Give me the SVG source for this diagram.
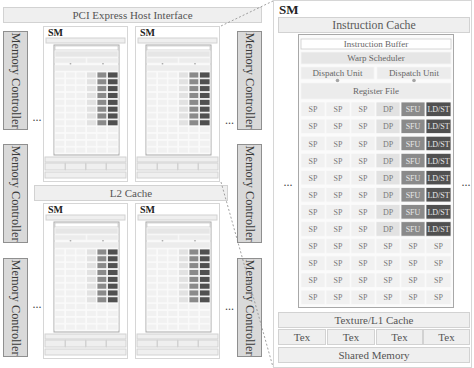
<svg xmlns="http://www.w3.org/2000/svg" xmlns:xlink="http://www.w3.org/1999/xlink" width="474" height="368" viewBox="0 0 474 368">
<style>
text{font-family:"Liberation Serif","Times New Roman",serif;text-anchor:middle;fill:#5a5a5a}
.mc rect{fill:#d9d9d9;stroke:#8f8f8f;stroke-width:1}
.mc text{font-size:12.3px;fill:#3a3a3a}
.bar{fill:#efefef;stroke:#d2d2d2;stroke-width:1}
.frame{fill:#ffffff;stroke:#d6d6d6;stroke-width:1}
.inner{fill:#fbfbfb;stroke:#a8a8a8;stroke-width:1}
.sp{fill:#f1f1f1;stroke:#fafafa;stroke-width:0.8}
.dp{fill:#e2e2e2;stroke:#fafafa;stroke-width:0.8}
.sfu{fill:#8a8a8a;stroke:#fafafa;stroke-width:0.8}
.ld{fill:#505050;stroke:#fafafa;stroke-width:0.8}
.wh{fill:#ffffff;stroke:#cccccc;stroke-width:0.8}
.g1{fill:#e6e6e6;stroke:#f4f4f4;stroke-width:0.8}
.g2{fill:#ececec;stroke:#f4f4f4;stroke-width:0.8}
.cell text{font-size:8px;fill:#7a7a7a}
.cell text.w{fill:#e8e8e8}
.lbl9{font-size:9px;fill:#666}
.lbl11{font-size:11px;fill:#555}
.smlbl{font-family:"Liberation Serif",serif;font-weight:bold;text-anchor:start;fill:#222}
.dots{font-size:12px;fill:#444}
.conn{stroke:#8a8a8a;stroke-width:0.8;stroke-dasharray:2 2;fill:none}
.dot{fill:#a5a5a5}
</style>
<defs>
<g id="smsmall">
<rect class="frame" x="0.5" y="0.5" width="84" height="155"/>
<rect class="bar" x="3" y="12" width="79" height="5"/>
<rect class="inner" x="11" y="19" width="65" height="110"/>
<rect class="wh" x="12" y="20" width="63" height="4"/>
<rect class="g1" x="12" y="25" width="63" height="6"/>
<rect class="g2" x="12" y="32" width="31" height="5"/>
<rect class="g2" x="44" y="32" width="31" height="5"/>
<circle class="dot" cx="27.5" cy="37.8" r="0.9"/>
<circle class="dot" cx="60" cy="37.8" r="0.9"/>
<rect class="g2" x="12" y="39" width="63" height="6"/>
<g id="srowA">
<rect class="sp" x="12" y="46" width="9.8" height="6"/>
<rect class="sp" x="22.5" y="46" width="9.8" height="6"/>
<rect class="sp" x="33" y="46" width="9.8" height="6"/>
<rect class="dp" x="43.5" y="46" width="9.8" height="6"/>
<rect class="sfu" x="54" y="46" width="9.8" height="6"/>
<rect class="ld" x="64.5" y="46" width="10.5" height="6"/>
</g>
<use xlink:href="#srowA" y="6.83"/>
<use xlink:href="#srowA" y="13.66"/>
<use xlink:href="#srowA" y="20.49"/>
<use xlink:href="#srowA" y="27.32"/>
<use xlink:href="#srowA" y="34.15"/>
<use xlink:href="#srowA" y="40.98"/>
<use xlink:href="#srowA" y="47.81"/>
<g id="srowB">
<rect class="sp" x="12" y="100.64" width="9.8" height="6"/>
<rect class="sp" x="22.5" y="100.64" width="9.8" height="6"/>
<rect class="sp" x="33" y="100.64" width="9.8" height="6"/>
<rect class="sp" x="43.5" y="100.64" width="9.8" height="6"/>
<rect class="sp" x="54" y="100.64" width="9.8" height="6"/>
<rect class="sp" x="64.5" y="100.64" width="10.5" height="6"/>
</g>
<use xlink:href="#srowB" y="6.83"/>
<use xlink:href="#srowB" y="13.66"/>
<use xlink:href="#srowB" y="20.49"/>
<rect class="bar" x="2" y="131" width="81" height="5"/>
<rect class="bar" x="2" y="137" width="20" height="7"/>
<rect class="bar" x="22.5" y="137" width="20" height="7"/>
<rect class="bar" x="43" y="137" width="20" height="7"/>
<rect class="bar" x="63.5" y="137" width="19.5" height="7"/>
<rect class="bar" x="2" y="146" width="81" height="6"/>
</g>
</defs>

<rect x="0" y="0" width="474" height="368" fill="#ffffff"/>

<g id="pci">
<rect class="bar" x="3.5" y="7.5" width="258" height="15"/>
<text class="lbl11" x="132.5" y="19">PCI Express Host Interface</text>
</g>

<g id="l2">
<rect class="bar" x="34.5" y="185.5" width="193" height="15"/>
<text class="lbl11" x="131" y="197">L2 Cache</text>
</g>

<g id="mc-l1" class="mc"><rect x="3.5" y="31.5" width="24" height="98"/><text transform="translate(11.5,80.5) rotate(90)">Memory Controller</text></g>
<g id="mc-l2" class="mc"><rect x="3.5" y="144.5" width="24" height="98"/><text transform="translate(11.5,193.5) rotate(90)">Memory Controller</text></g>
<g id="mc-l3" class="mc"><rect x="3.5" y="258.5" width="24" height="98"/><text transform="translate(11.5,307.5) rotate(90)">Memory Controller</text></g>
<g id="mc-r1" class="mc"><rect x="237.5" y="31.5" width="24" height="98"/><text transform="translate(245.5,80.5) rotate(90)">Memory Controller</text></g>
<g id="mc-r2" class="mc"><rect x="237.5" y="144.5" width="24" height="98"/><text transform="translate(245.5,193.5) rotate(90)">Memory Controller</text></g>
<g id="mc-r3" class="mc"><rect x="237.5" y="258.5" width="24" height="98"/><text transform="translate(245.5,307.5) rotate(90)">Memory Controller</text></g>

<g id="sm-1" transform="translate(43,26)"><use xlink:href="#smsmall"/><text class="smlbl" x="5" y="10" font-size="10">SM</text></g>
<g id="sm-2" transform="translate(135,26)"><use xlink:href="#smsmall"/><text class="smlbl" x="5" y="10" font-size="10">SM</text></g>
<g id="sm-3" transform="translate(43,203)"><use xlink:href="#smsmall"/><text class="smlbl" x="5" y="10" font-size="10">SM</text></g>
<g id="sm-4" transform="translate(135,203)"><use xlink:href="#smsmall"/><text class="smlbl" x="5" y="10" font-size="10">SM</text></g>

<g id="dots-left">
<text class="dots" x="37" y="121">...</text>
<text class="dots" x="229.5" y="124">...</text>
<text class="dots" x="37" y="308">...</text>
<text class="dots" x="229.5" y="310">...</text>
</g>

<g id="connectors">
<line class="conn" x1="221" y1="26" x2="273" y2="1"/>
<line class="conn" x1="221" y1="182" x2="273" y2="367"/>
</g>

<g id="sm-detail">
<rect class="frame" x="273.5" y="0.5" width="198" height="367"/>
<text class="smlbl" x="279" y="14" font-size="13">SM</text>
<g id="instr-cache">
<rect class="bar" x="278.5" y="17.5" width="191" height="15" fill="#f6f6f6"/>
<text x="374" y="29" font-size="11.8" fill="#555">Instruction Cache</text>
</g>
<rect class="inner" x="298.5" y="34.5" width="155" height="273"/>
<g id="instr-buffer"><rect class="wh" x="301" y="39" width="150" height="10"/><text class="lbl9" x="376" y="47">Instruction Buffer</text></g>
<g id="warp-sched"><rect class="g1" x="301" y="52" width="150" height="12"/><text class="lbl9" x="376" y="61">Warp Scheduler</text></g>
<g id="dispatch-1"><rect class="g2" x="301" y="67" width="73" height="12"/><text class="lbl9" x="337.5" y="76">Dispatch Unit</text></g>
<g id="dispatch-2"><rect class="g2" x="377" y="67" width="74" height="12"/><text class="lbl9" x="414" y="76">Dispatch Unit</text></g>
<circle class="dot" cx="337.5" cy="80.5" r="1.8"/>
<circle class="dot" cx="414" cy="80.5" r="1.8"/>
<g id="reg-file"><rect class="g2" x="301" y="83" width="150" height="16"/><text class="lbl9" x="376" y="94">Register File</text></g>

<g id="cores" class="cell">
<rect class="sp" x="301" y="102" width="24" height="14.5"/><text x="313" y="112.3">SP</text>
<rect class="sp" x="326" y="102" width="24" height="14.5"/><text x="338" y="112.3">SP</text>
<rect class="sp" x="351" y="102" width="24" height="14.5"/><text x="363" y="112.3">SP</text>
<rect class="dp" x="376" y="102" width="24" height="14.5"/><text x="388" y="112.3">DP</text>
<rect class="sfu" x="401" y="102" width="24" height="14.5"/><text class="w" x="413" y="112.3">SFU</text>
<rect class="ld" x="426" y="102" width="25" height="14.5"/><text class="w" x="438.5" y="112.3">LD/ST</text>

<rect class="sp" x="301" y="119.1" width="24" height="14.5"/><text x="313" y="129.4">SP</text>
<rect class="sp" x="326" y="119.1" width="24" height="14.5"/><text x="338" y="129.4">SP</text>
<rect class="sp" x="351" y="119.1" width="24" height="14.5"/><text x="363" y="129.4">SP</text>
<rect class="dp" x="376" y="119.1" width="24" height="14.5"/><text x="388" y="129.4">DP</text>
<rect class="sfu" x="401" y="119.1" width="24" height="14.5"/><text class="w" x="413" y="129.4">SFU</text>
<rect class="ld" x="426" y="119.1" width="25" height="14.5"/><text class="w" x="438.5" y="129.4">LD/ST</text>

<rect class="sp" x="301" y="136.2" width="24" height="14.5"/><text x="313" y="146.5">SP</text>
<rect class="sp" x="326" y="136.2" width="24" height="14.5"/><text x="338" y="146.5">SP</text>
<rect class="sp" x="351" y="136.2" width="24" height="14.5"/><text x="363" y="146.5">SP</text>
<rect class="dp" x="376" y="136.2" width="24" height="14.5"/><text x="388" y="146.5">DP</text>
<rect class="sfu" x="401" y="136.2" width="24" height="14.5"/><text class="w" x="413" y="146.5">SFU</text>
<rect class="ld" x="426" y="136.2" width="25" height="14.5"/><text class="w" x="438.5" y="146.5">LD/ST</text>

<rect class="sp" x="301" y="153.3" width="24" height="14.5"/><text x="313" y="163.6">SP</text>
<rect class="sp" x="326" y="153.3" width="24" height="14.5"/><text x="338" y="163.6">SP</text>
<rect class="sp" x="351" y="153.3" width="24" height="14.5"/><text x="363" y="163.6">SP</text>
<rect class="dp" x="376" y="153.3" width="24" height="14.5"/><text x="388" y="163.6">DP</text>
<rect class="sfu" x="401" y="153.3" width="24" height="14.5"/><text class="w" x="413" y="163.6">SFU</text>
<rect class="ld" x="426" y="153.3" width="25" height="14.5"/><text class="w" x="438.5" y="163.6">LD/ST</text>

<rect class="sp" x="301" y="170.4" width="24" height="14.5"/><text x="313" y="180.7">SP</text>
<rect class="sp" x="326" y="170.4" width="24" height="14.5"/><text x="338" y="180.7">SP</text>
<rect class="sp" x="351" y="170.4" width="24" height="14.5"/><text x="363" y="180.7">SP</text>
<rect class="dp" x="376" y="170.4" width="24" height="14.5"/><text x="388" y="180.7">DP</text>
<rect class="sfu" x="401" y="170.4" width="24" height="14.5"/><text class="w" x="413" y="180.7">SFU</text>
<rect class="ld" x="426" y="170.4" width="25" height="14.5"/><text class="w" x="438.5" y="180.7">LD/ST</text>

<rect class="sp" x="301" y="187.5" width="24" height="14.5"/><text x="313" y="197.8">SP</text>
<rect class="sp" x="326" y="187.5" width="24" height="14.5"/><text x="338" y="197.8">SP</text>
<rect class="sp" x="351" y="187.5" width="24" height="14.5"/><text x="363" y="197.8">SP</text>
<rect class="dp" x="376" y="187.5" width="24" height="14.5"/><text x="388" y="197.8">DP</text>
<rect class="sfu" x="401" y="187.5" width="24" height="14.5"/><text class="w" x="413" y="197.8">SFU</text>
<rect class="ld" x="426" y="187.5" width="25" height="14.5"/><text class="w" x="438.5" y="197.8">LD/ST</text>

<rect class="sp" x="301" y="204.6" width="24" height="14.5"/><text x="313" y="214.9">SP</text>
<rect class="sp" x="326" y="204.6" width="24" height="14.5"/><text x="338" y="214.9">SP</text>
<rect class="sp" x="351" y="204.6" width="24" height="14.5"/><text x="363" y="214.9">SP</text>
<rect class="dp" x="376" y="204.6" width="24" height="14.5"/><text x="388" y="214.9">DP</text>
<rect class="sfu" x="401" y="204.6" width="24" height="14.5"/><text class="w" x="413" y="214.9">SFU</text>
<rect class="ld" x="426" y="204.6" width="25" height="14.5"/><text class="w" x="438.5" y="214.9">LD/ST</text>

<rect class="sp" x="301" y="221.7" width="24" height="14.5"/><text x="313" y="232">SP</text>
<rect class="sp" x="326" y="221.7" width="24" height="14.5"/><text x="338" y="232">SP</text>
<rect class="sp" x="351" y="221.7" width="24" height="14.5"/><text x="363" y="232">SP</text>
<rect class="dp" x="376" y="221.7" width="24" height="14.5"/><text x="388" y="232">DP</text>
<rect class="sfu" x="401" y="221.7" width="24" height="14.5"/><text class="w" x="413" y="232">SFU</text>
<rect class="ld" x="426" y="221.7" width="25" height="14.5"/><text class="w" x="438.5" y="232">LD/ST</text>

<rect class="sp" x="301" y="238.8" width="24" height="14.5"/><text x="313" y="249.1">SP</text>
<rect class="sp" x="326" y="238.8" width="24" height="14.5"/><text x="338" y="249.1">SP</text>
<rect class="sp" x="351" y="238.8" width="24" height="14.5"/><text x="363" y="249.1">SP</text>
<rect class="sp" x="376" y="238.8" width="24" height="14.5"/><text x="388" y="249.1">SP</text>
<rect class="sp" x="401" y="238.8" width="24" height="14.5"/><text x="413" y="249.1">SP</text>
<rect class="sp" x="426" y="238.8" width="25" height="14.5"/><text x="438.5" y="249.1">SP</text>

<rect class="sp" x="301" y="255.9" width="24" height="14.5"/><text x="313" y="266.2">SP</text>
<rect class="sp" x="326" y="255.9" width="24" height="14.5"/><text x="338" y="266.2">SP</text>
<rect class="sp" x="351" y="255.9" width="24" height="14.5"/><text x="363" y="266.2">SP</text>
<rect class="sp" x="376" y="255.9" width="24" height="14.5"/><text x="388" y="266.2">SP</text>
<rect class="sp" x="401" y="255.9" width="24" height="14.5"/><text x="413" y="266.2">SP</text>
<rect class="sp" x="426" y="255.9" width="25" height="14.5"/><text x="438.5" y="266.2">SP</text>

<rect class="sp" x="301" y="273" width="24" height="14.5"/><text x="313" y="283.3">SP</text>
<rect class="sp" x="326" y="273" width="24" height="14.5"/><text x="338" y="283.3">SP</text>
<rect class="sp" x="351" y="273" width="24" height="14.5"/><text x="363" y="283.3">SP</text>
<rect class="sp" x="376" y="273" width="24" height="14.5"/><text x="388" y="283.3">SP</text>
<rect class="sp" x="401" y="273" width="24" height="14.5"/><text x="413" y="283.3">SP</text>
<rect class="sp" x="426" y="273" width="25" height="14.5"/><text x="438.5" y="283.3">SP</text>

<rect class="sp" x="301" y="290.1" width="24" height="14.5"/><text x="313" y="300.4">SP</text>
<rect class="sp" x="326" y="290.1" width="24" height="14.5"/><text x="338" y="300.4">SP</text>
<rect class="sp" x="351" y="290.1" width="24" height="14.5"/><text x="363" y="300.4">SP</text>
<rect class="sp" x="376" y="290.1" width="24" height="14.5"/><text x="388" y="300.4">SP</text>
<rect class="sp" x="401" y="290.1" width="24" height="14.5"/><text x="413" y="300.4">SP</text>
<rect class="sp" x="426" y="290.1" width="25" height="14.5"/><text x="438.5" y="300.4">SP</text>
</g>

<g id="tex-l1"><rect class="bar" x="278.5" y="312.5" width="191" height="15"/><text class="lbl11" x="374" y="324">Texture/L1 Cache</text></g>
<g id="tex-1"><rect class="bar" x="278.5" y="329.5" width="47" height="15"/><text class="lbl11" x="302" y="341">Tex</text></g>
<g id="tex-2"><rect class="bar" x="327.5" y="329.5" width="47" height="15"/><text class="lbl11" x="351" y="341">Tex</text></g>
<g id="tex-3"><rect class="bar" x="376.5" y="329.5" width="46" height="15"/><text class="lbl11" x="399.5" y="341">Tex</text></g>
<g id="tex-4"><rect class="bar" x="423.5" y="329.5" width="46" height="15"/><text class="lbl11" x="446.5" y="341">Tex</text></g>
<g id="shared-mem"><rect class="bar" x="278.5" y="347.5" width="191" height="15"/><text class="lbl11" x="374" y="359">Shared Memory</text></g>

<text class="dots" x="288" y="186">...</text>
<text class="dots" x="466" y="186">...</text>
</g>
</svg>
